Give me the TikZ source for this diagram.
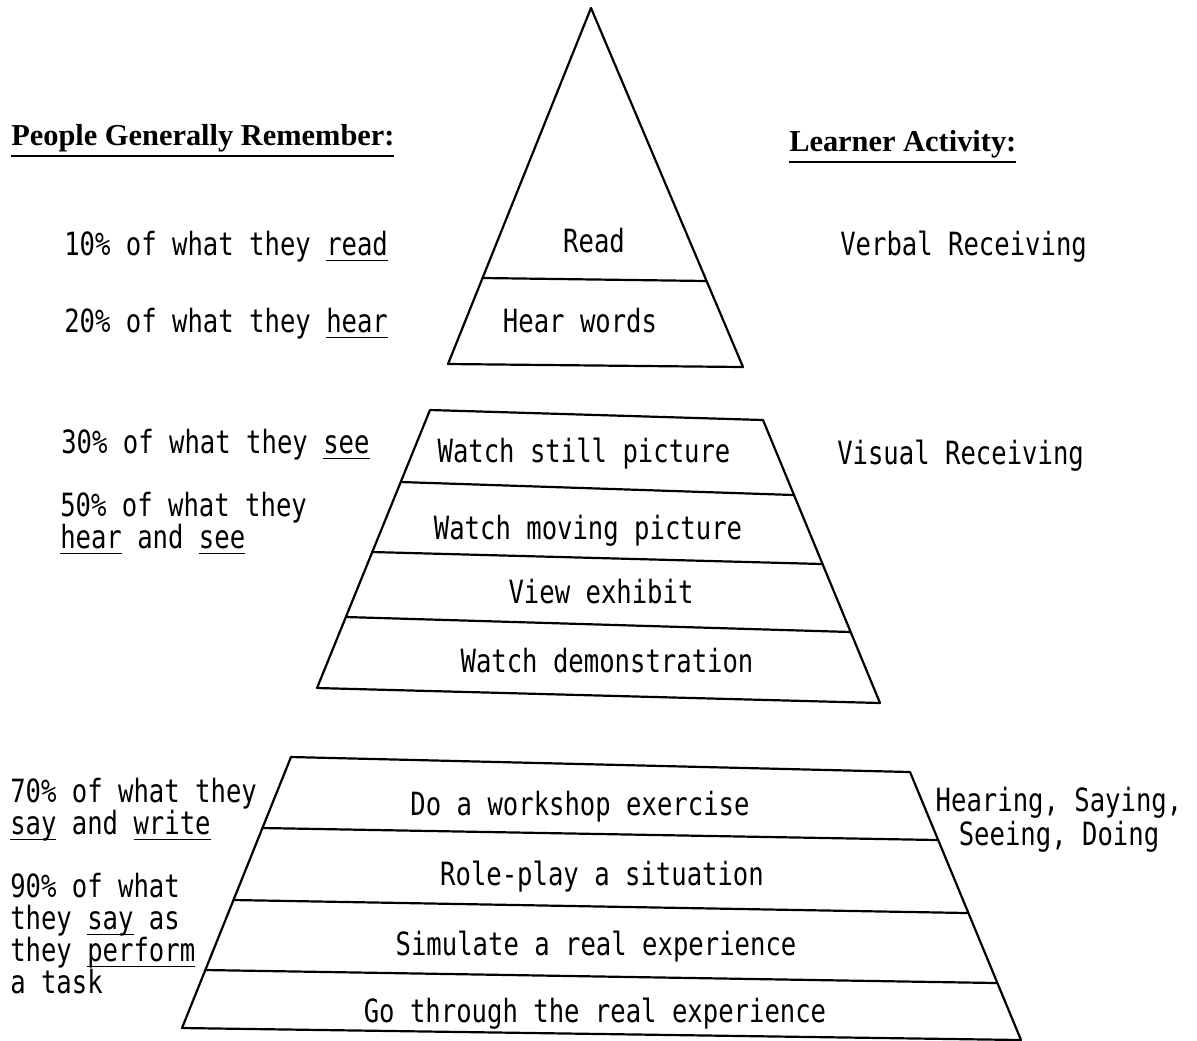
\documentclass[tikz,border=0pt]{standalone}
\usepackage{fontspec}
\setmainfont{Liberation Serif}
\setmonofont[FakeStretch=0.8]{DejaVu Sans Mono}

% underlined words
\newcommand{\undl}[1]{\leavevmode\setbox0=\hbox{#1}\rlap{\rule[-3.2pt]{\wd0}{0.9pt}}\box0\relax}
\newcommand{\hdul}[1]{\leavevmode\setbox0=\hbox{#1}\rlap{\rule[-5.8pt]{\wd0}{0.8pt}}\box0\relax}

\tikzset{every picture/.style={line width=0.75pt}}
\tikzset{
  cone/.style={line width=1.1pt, line join=round, line cap=round},
  txt/.style={inner sep=0.75pt, align=left, font=\ttfamily\fontsize{16}{16}\selectfont},
  ttl/.style={inner sep=0.75pt, align=left, font=\bfseries\fontsize{15.2}{18}\selectfont},
}

\begin{document}
\begin{tikzpicture}[x=0.5pt,y=0.5pt,yscale=-1,xscale=1]
\useasboundingbox (0,0) rectangle (1197,1040);

%Shape: Triangle [top]
\draw [cone] (591,8) -- (743,367) -- (448,364) -- cycle ;
%Straight Lines
\draw [cone] (482.5,278) -- (706.6,281) ;

%Shape: Trapezoid [middle]
\draw [cone] (430,410) -- (763,420) -- (880,703) -- (317,688) -- cycle ;
%Straight Lines
\draw [cone] (400.7,482) -- (794,495) ;
\draw [cone] (372,552) -- (822.5,564) ;
\draw [cone] (346,617) -- (850.6,632) ;

%Shape: Trapezoid [bottom]
\draw [cone] (291,757) -- (910,772) -- (1021,1040) -- (182,1028) -- cycle ;
%Straight Lines
\draw [cone] (262.5,828) -- (937,840) ;
\draw [cone] (233.5,900) -- (967,913) ;
\draw [cone] (205,970) -- (996,983) ;

% Text Node
\draw (9,145) node (hdremember) [anchor=base west][ttl] {\hdul{People Generally Remember:}};
% Text Node
\draw (787,151) node (hdlearner) [anchor=base west][ttl] {\hdul{Learner Activity:}};

% Text Node
\draw (62,255) node (pcread) [anchor=base west][txt] {10\% of what they \undl{read}};
% Text Node
\draw (62,332) node (pchear) [anchor=base west][txt] {20\% of what they \undl{hear}};
% Text Node
\draw (59,453) node (pcsee) [anchor=base west][txt] {30\% of what they \undl{see}};
% Text Node (base = last line)
\draw (58,548) node (pchearsee) [anchor=base west][txt] {50\% of what they\\\undl{hear} and \undl{see}};
% Text Node
\draw (8,834) node (pcsay) [anchor=base west][txt] {70\% of what they\\\undl{say} and \undl{write}};
% Text Node
\draw (8,993) node (pcperform) [anchor=base west][txt] {90\% of what\\they \undl{say} as\\they \undl{perform}\\a task};

% Text Node
\draw (838,255) node (verbal) [anchor=base west][txt] {Verbal Receiving};
% Text Node
\draw (835,464) node (visual) [anchor=base west][txt] {Visual Receiving};
% Text Node
\draw (1059,845) node (doing) [anchor=base][txt, align=center, font=\ttfamily\fontsize{16}{15}\selectfont] {Hearing, Saying,\\Seeing, Doing};

% Text Node
\draw (594,252) node (read) [anchor=base][txt] {Read};
% Text Node
\draw (580,332) node (hearwords) [anchor=base][txt] {Hear words};
% Text Node
\draw (584,462) node (still) [anchor=base][txt] {Watch still picture};
% Text Node
\draw (588,539) node (moving) [anchor=base][txt] {Watch moving picture};
% Text Node
\draw (601,603) node (exhibit) [anchor=base][txt] {View exhibit};
% Text Node
\draw (607,672) node (demo) [anchor=base][txt] {Watch demonstration};
% Text Node
\draw (580,815) node (workshop) [anchor=base][txt] {Do a workshop exercise};
% Text Node
\draw (602,885) node (roleplay) [anchor=base][txt] {Role-play a situation};
% Text Node
\draw (596,955) node (simulate) [anchor=base][txt] {Simulate a real experience};
% Text Node
\draw (595,1022) node (real) [anchor=base][txt] {Go through the real experience};

\end{tikzpicture}
\end{document}
